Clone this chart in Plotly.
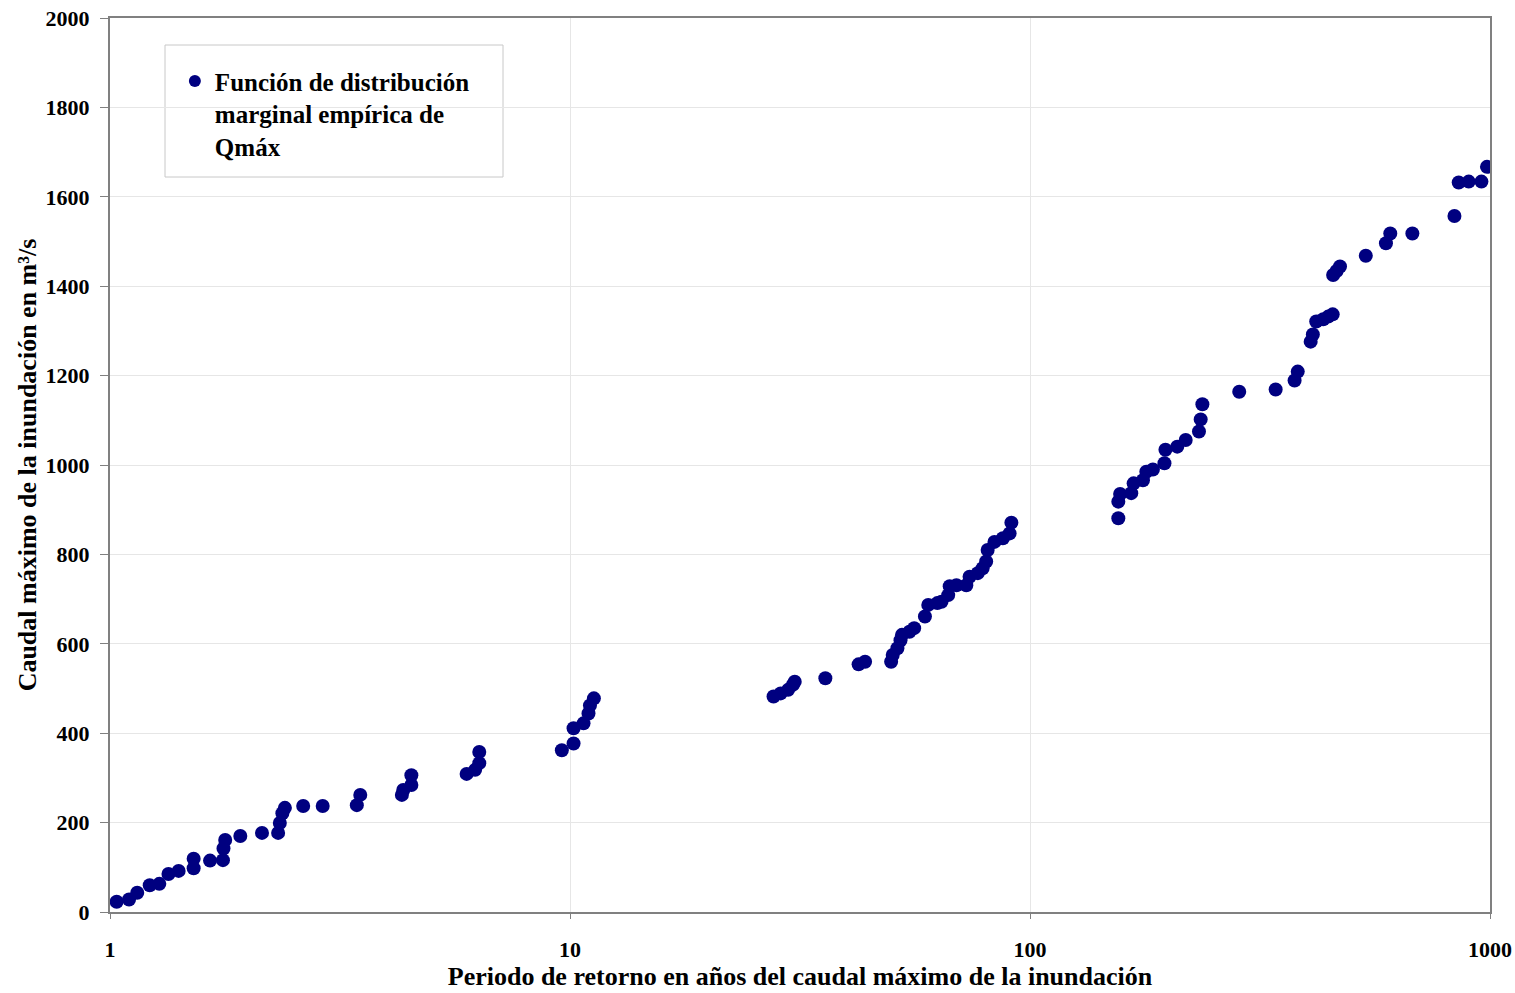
import plotly.graph_objects as go

# Return period (years) and peak flood flow (m3/s)
T = [1.034, 1.10, 1.146, 1.22, 1.28, 1.34, 1.41, 1.52, 1.52, 1.65, 1.76, 1.765, 1.78, 1.92,
     2.14, 2.32, 2.34, 2.37, 2.40, 2.63, 2.90, 3.44, 3.50, 4.31, 4.34, 4.52, 4.52,
     5.96, 6.22, 6.35, 6.35, 9.6, 10.18, 10.18, 10.7, 10.97, 11.05, 11.27,
     27.7, 28.7, 29.8, 30.5, 30.8, 35.9, 42.4, 43.8, 49.9, 50.3, 51.5, 52.3, 52.7,
     54.7, 56.0, 59.1, 60.1, 62.9, 64.2, 66.4, 66.9, 69.2, 72.7, 73.9, 77.0, 78.9,
     80.3, 80.9, 83.7, 87.3, 90.3, 91.1,
     155.6, 155.6, 157, 166, 168, 176, 179, 185, 196, 197, 209, 218, 233, 235, 237,
     285, 342, 376, 382,
     407.5, 412, 419, 434, 445, 455, 456, 464, 472, 537, 594, 607, 678,
     837, 855, 899, 958, 985]
Q = [23, 28, 43, 60, 63, 85, 92, 98, 119, 115, 116, 142, 161, 170,
     177, 177, 199, 221, 233, 237, 237, 239, 262, 262, 273, 284, 306,
     309, 318, 333, 358, 362, 377, 411, 422, 444, 462, 478,
     482, 489, 497, 508, 515, 523, 554, 560, 560, 575, 590, 608, 620,
     627, 635, 661, 687, 691, 694, 709, 729, 731, 731, 750, 758, 769,
     784, 810, 828, 836, 847, 871,
     881, 918, 935, 937, 959, 966, 985, 990, 1004, 1034, 1041, 1056, 1075, 1102, 1136,
     1164, 1169, 1189, 1209,
     1276, 1292, 1321, 1326, 1332, 1337, 1425, 1434, 1444, 1468, 1496, 1518, 1518,
     1557, 1632, 1634, 1634, 1667]

x_ticks = [1, 10, 100, 1000]
x_ticktext = ["1", "10", "100", "1000"]

legend_name = "Función de distribución<br>marginal empírica de<br>Qmáx"
x_title = "Periodo de retorno en años del caudal máximo de la inundación"
y_title = "Caudal máximo de la inundación en m³/s"

FONT = "Liberation Serif"
NAVY = "#000080"

fig = go.Figure()
fig.add_trace(go.Scatter(
    x=T, y=Q, mode="markers", name=legend_name,
    marker=dict(color=NAVY, size=14, line=dict(width=0)),
    showlegend=True,
))

fig.update_layout(
    width=1515, height=993,
    margin=dict(l=110, r=25, t=18, b=81, autoexpand=False),
    paper_bgcolor="white", plot_bgcolor="white",
    font=dict(family=FONT, color="black"),
    showlegend=True,
    legend=dict(
        x=0.047, y=0.955, xanchor="left", yanchor="top",
        bgcolor="rgba(0,0,0,0)", borderwidth=0,
        font=dict(family=FONT, size=25, color="black", weight="bold"),
        valign="top", itemsizing="constant", tracegroupgap=0,
    ),
    shapes=[dict(
        type="rect", xref="paper", yref="paper",
        x0=(165 - 110) / 1380, x1=(503 - 110) / 1380,
        y0=(912 - 177) / 894, y1=(912 - 45) / 894,
        line=dict(color="#c8c8c8", width=1), fillcolor="white", layer="below",
    )],
    xaxis=dict(
        type="log", range=[0, 3], automargin=False,
        tickvals=x_ticks, ticktext=x_ticktext,
        showgrid=True, gridcolor="#e6e6e6", gridwidth=1,
        showline=True, linecolor="#808080", linewidth=2, mirror=True,
        ticks="outside", ticklen=5, tickcolor="#808080",
        tickfont=dict(family=FONT, size=22, color="black", weight="bold"),
        ticklabelstandoff=12,
        title=dict(text=x_title, font=dict(family=FONT, size=26, color="black", weight="bold"),
                   standoff=4),
        zeroline=False,
    ),
    yaxis=dict(
        range=[0, 2000], dtick=200, automargin=False,
        showgrid=True, gridcolor="#e6e6e6", gridwidth=1,
        showline=True, linecolor="#808080", linewidth=2, mirror=True,
        ticks="outside", ticklen=8, tickcolor="#808080",
        tickfont=dict(family=FONT, size=22, color="black", weight="bold"),
        ticklabelstandoff=6,
        title=dict(text=y_title, font=dict(family=FONT, size=26, color="black", weight="bold"),
                   standoff=1),
        zeroline=False,
    ),
)

fig.write_html("out.html")
